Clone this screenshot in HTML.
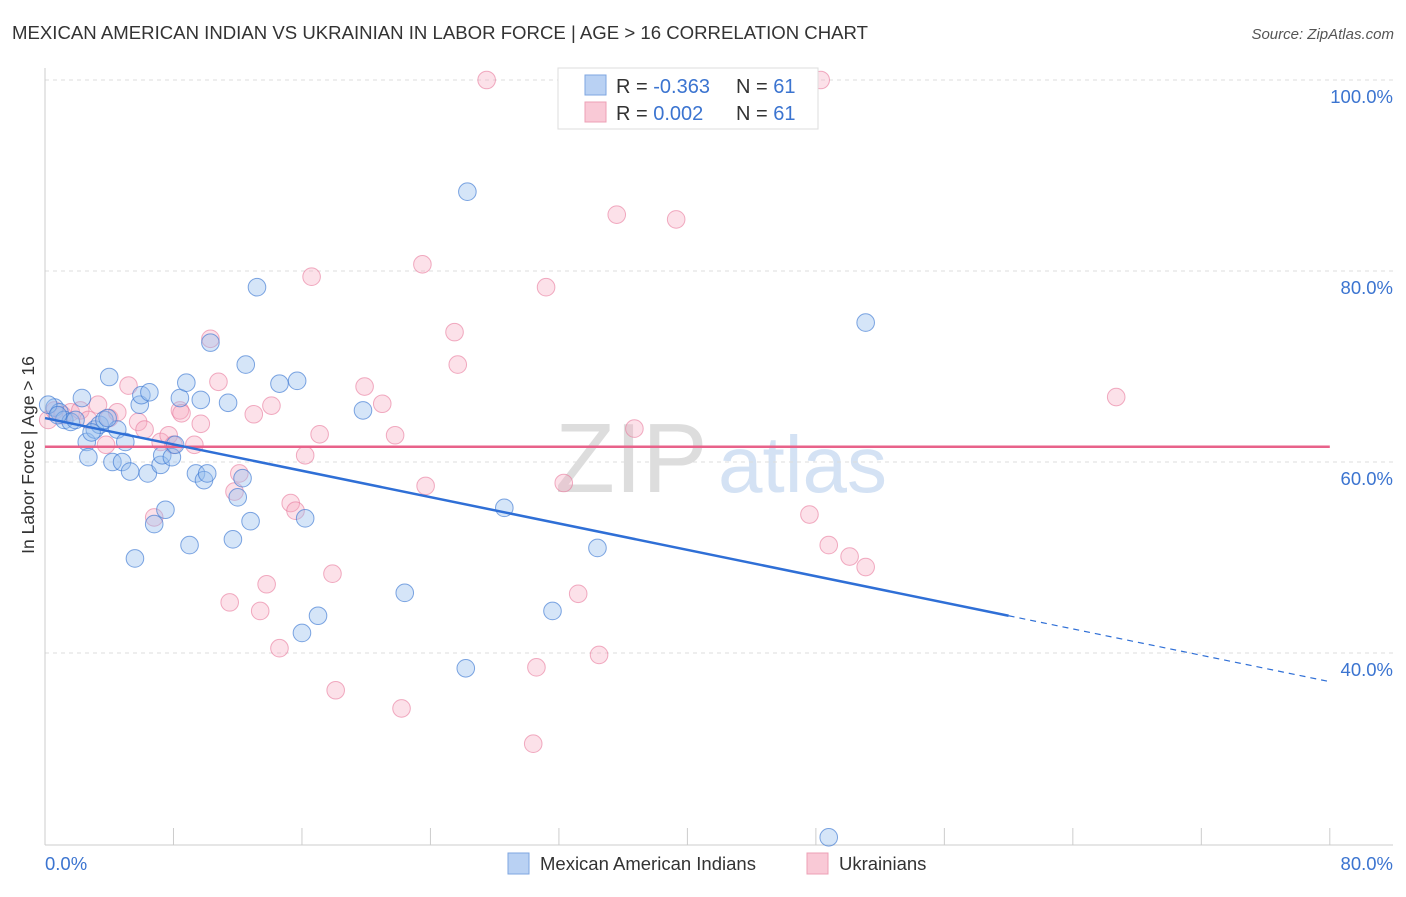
<!DOCTYPE html>
<html><head><meta charset="utf-8"><style>
body{margin:0;background:#fff;font-family:"Liberation Sans",sans-serif;}
svg text{font-family:"Liberation Sans",sans-serif;}
</style></head><body>
<svg id="chart" width="1406" height="892" xmlns="http://www.w3.org/2000/svg">
<text x="12" y="39" font-size="18.6" fill="#333">MEXICAN AMERICAN INDIAN VS UKRAINIAN IN LABOR FORCE | AGE &gt; 16 CORRELATION CHART</text>
<text x="1394" y="39" font-size="15" fill="#555" text-anchor="end" font-style="italic">Source: ZipAtlas.com</text>
<g>
<text x="555" y="492" font-size="98" fill="#ddd" font-family="Liberation Serif">ZIP</text>
<text x="718" y="492" font-size="80" fill="#d4e2f4">atlas</text>
</g>
<g id="grid"></g>
<line x1="45" y1="68" x2="45" y2="845" stroke="#ccc"/>
<line x1="45" y1="845" x2="1393" y2="845" stroke="#ccc"/>
<g id="xticks"></g>
<text x="28" y="455" font-size="17.5" fill="#333" transform="rotate(-90 28 455)" text-anchor="middle" dy="6">In Labor Force | Age &gt; 16</text>
<text x="45" y="870" font-size="18.5" fill="#3b74d0">0.0%</text>
<text x="1393" y="870" font-size="18.5" fill="#3b74d0" text-anchor="end">80.0%</text>
<g id="pts"></g>
<g id="trends"></g>
<g>
<rect x="558" y="68" width="260" height="61" fill="#fff" stroke="#ddd"/>
<rect x="585" y="75" width="21" height="20" fill="#b9d1f3" stroke="#7ea6e0"/>
<rect x="585" y="102" width="21" height="20" fill="#f9c9d6" stroke="#eda0b6"/>
<text x="616" y="93" font-size="20" fill="#333">R = <tspan fill="#3b74d0">-0.363</tspan></text>
<text x="736" y="93" font-size="20" fill="#333">N = <tspan fill="#3b74d0">61</tspan></text>
<text x="616" y="120" font-size="20" fill="#333">R = <tspan fill="#3b74d0"> 0.002</tspan></text>
<text x="736" y="120" font-size="20" fill="#333">N = <tspan fill="#3b74d0">61</tspan></text>
</g>
<g>
<rect x="508" y="853" width="21" height="21" fill="#b9d1f3" stroke="#7ea6e0"/>
<text x="540" y="870" font-size="18.5" fill="#333">Mexican American Indians</text>
<rect x="807" y="853" width="21" height="21" fill="#f9c9d6" stroke="#eda0b6"/>
<text x="839" y="870" font-size="18.5" fill="#333">Ukrainians</text>
</g>
</svg>
<script>
const blueX=[0.6,0.9,1.2,1.6,2.3,2.6,2.7,3.1,3.4,3.7,4.0,4.2,4.5,4.8,5.0,5.3,5.6,5.9,6.0,6.4,6.5,6.8,7.2,7.3,7.5,7.9,8.1,8.4,8.8,9.0,9.4,9.7,9.9,10.1,10.3,11.4,11.7,12.0,12.3,12.5,12.8,13.2,14.6,15.7,16.0,16.2,17.0,19.8,22.4,26.2,26.3,28.6,31.6,34.4,48.8,51.1,0.2,0.8,1.9,2.9,3.9];
const blueY=[65.7,65.2,64.4,64.2,66.7,62.1,60.5,63.4,63.9,64.4,68.9,60.0,63.4,60.0,62.1,59.0,49.9,66.0,67.0,58.8,67.3,53.5,59.7,60.7,55.0,60.5,61.8,66.7,68.3,51.3,58.8,66.5,58.1,58.8,72.5,66.2,51.9,56.3,58.3,70.2,53.8,78.3,68.2,68.5,42.1,54.1,43.9,65.4,46.3,38.4,88.3,55.2,44.4,51.0,20.7,74.6,66.0,64.9,64.4,63.1,64.6];
const pinkX=[0.2,0.6,1.1,1.6,2.2,2.7,3.3,3.8,4.0,4.5,5.2,5.8,6.2,6.8,7.2,7.7,8.0,8.4,8.5,9.3,9.7,10.3,10.8,11.5,11.8,12.1,13.0,13.4,13.8,14.1,14.6,15.3,15.6,16.2,16.6,17.1,17.9,18.1,19.9,21.0,21.8,22.2,23.5,23.7,25.5,25.7,27.5,30.4,30.6,31.2,32.3,33.2,34.5,35.6,36.7,39.3,47.6,48.3,48.8,50.1,51.1,66.7];
const pinkY=[64.4,65.4,64.9,65.2,65.4,64.4,66.0,61.8,64.6,65.2,68.0,64.2,63.4,54.2,62.1,62.8,61.8,65.4,65.1,61.8,64.0,72.9,68.4,45.3,56.9,58.8,65.0,44.4,47.2,65.9,40.5,55.7,54.9,60.7,79.4,62.9,48.3,36.1,67.9,66.1,62.8,34.2,80.7,57.5,73.6,70.2,100,30.5,38.5,78.3,57.8,46.2,39.8,85.9,63.5,85.4,54.5,100,51.3,50.1,49.0,66.8];
const yTicks=[100,80,60,40];
const yTickLabels=["100.0%","80.0%","60.0%","40.0%"];
const xTicks=[0,8,16,24,32,40,48,56,64,72,80];
const blueTrend=[64.6,-0.345];
const blueSolidEnd=60;
const pinkTrend=[61.6,0];

const NS="http://www.w3.org/2000/svg";
const sx=v=>45+v*16.06;
const sy=v=>80+(100-v)*9.55;
function mk(tag,attrs,parent){const e=document.createElementNS(NS,tag);for(const k in attrs)e.setAttribute(k,attrs[k]);parent.appendChild(e);return e;}
const grid=document.getElementById('grid');
yTicks.forEach((t,i)=>{
  const l=mk('line',{x1:45,x2:1393,y1:sy(t),y2:sy(t),stroke:'#ddd','stroke-dasharray':'4,4'},grid);
  
  
  const tx=mk('text',{x:1393,y:sy(t)+23,'font-size':18.5,fill:'#3b74d0','text-anchor':'end'},grid);
  tx.textContent=yTickLabels[i];
  
  
});
const xt=document.getElementById('xticks');
xTicks.forEach(t=>{
  const l=mk('line',{x1:sx(t),x2:sx(t),y1:828,y2:845,stroke:'#ccc'},xt);
  
  
});
const pts=document.getElementById('pts');
pinkX.forEach((x,i)=>{
  const c=mk('circle',{cx:sx(x),cy:sy(pinkY[i]),r:8.8,fill:'rgba(246,170,192,0.35)',stroke:'rgba(232,120,155,0.6)','stroke-width':1},pts);
  
  
});
blueX.forEach((x,i)=>{
  const c=mk('circle',{cx:sx(x),cy:sy(blueY[i]),r:8.8,fill:'rgba(150,190,238,0.4)',stroke:'rgba(60,120,210,0.65)','stroke-width':1},pts);
  
  
});
const tr=document.getElementById('trends');
const p=mk('line',{x1:sx(0),x2:sx(80),y1:sy(pinkTrend[0]),y2:sy(pinkTrend[0]+pinkTrend[1]*80),stroke:'#e8628a','stroke-width':2.5},tr);


const b1=mk('line',{x1:sx(0),x2:sx(blueSolidEnd),y1:sy(blueTrend[0]),y2:sy(blueTrend[0]+blueTrend[1]*blueSolidEnd),stroke:'#2f6fd6','stroke-width':2.5},tr);


const b2=mk('line',{x1:sx(blueSolidEnd),x2:sx(80),y1:sy(blueTrend[0]+blueTrend[1]*blueSolidEnd),y2:sy(blueTrend[0]+blueTrend[1]*80),stroke:'#2f6fd6','stroke-width':1.2,'stroke-dasharray':'6,5'},tr);


</script>
</body></html>
